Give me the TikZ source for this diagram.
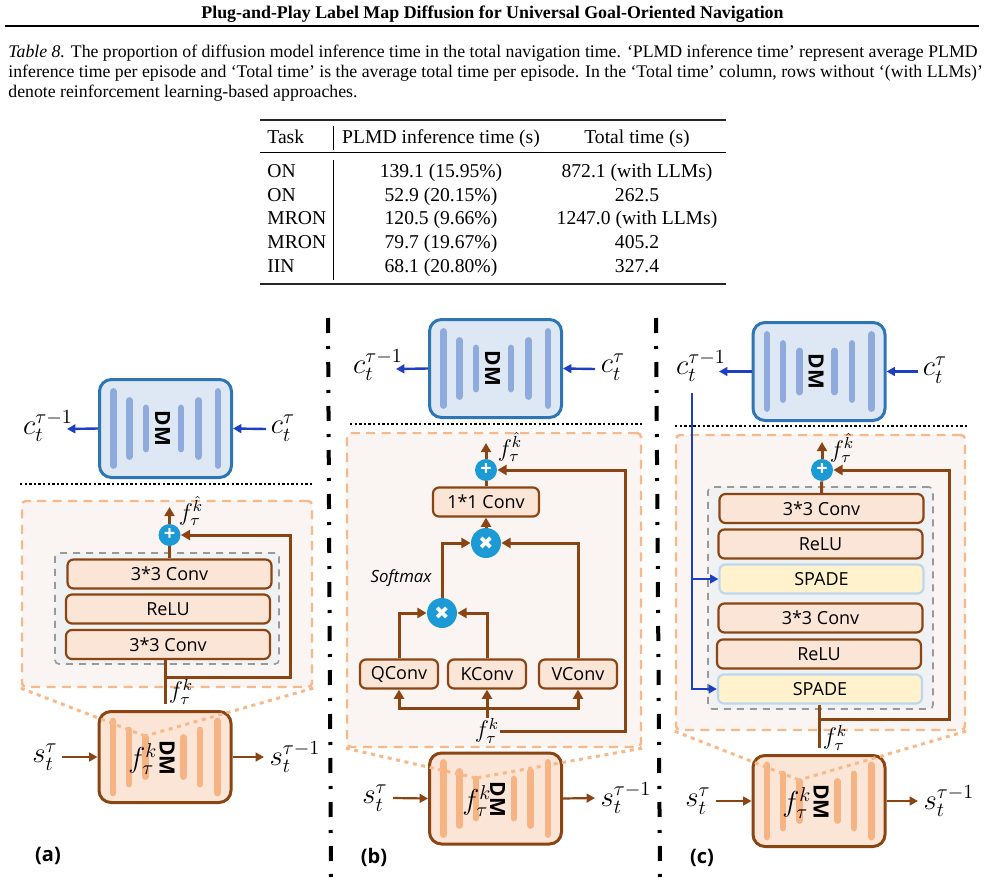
\documentclass[tikz,border=0pt]{standalone}
\usepackage{amsmath}
\usepackage{fontspec}
\setmainfont{Liberation Serif}
\newfontfamily\handfont{Open Sans}
\newfontfamily\symfont{DejaVu Sans}
\usetikzlibrary{arrows.meta}
\definecolor{brownline}{HTML}{8B4513}
\definecolor{orangefill}{HTML}{FBE5D6}
\definecolor{orangebar}{HTML}{F6B383}
\definecolor{orangedash}{HTML}{F8B98A}
\definecolor{panelfill}{HTML}{FAF5F2}
\definecolor{grayfill}{HTML}{F0F1F3}
\definecolor{bluefill}{HTML}{DEE8F5}
\definecolor{blueline}{HTML}{2E75B6}
\definecolor{bluebar}{HTML}{8FAADC}
\definecolor{arrowblue}{HTML}{1C3FC4}
\definecolor{circleblue}{HTML}{1B9AD6}
\definecolor{spadefill}{HTML}{FFF2CC}
\definecolor{spadeline}{HTML}{BDD7EE}
\tikzset{
  caption/.style={anchor=west, inner sep=0pt, font=\fontsize{8.88}{10}\selectfont},
  cell/.style={inner sep=0pt, text height=6.5pt, text depth=2pt, font=\fontsize{9.8}{11}\selectfont},
  tablerule/.style={line width=0.9pt, black!85},
  dmblue/.style={draw=blueline, fill=bluefill, line width=1.5pt, rounded corners=6pt, minimum width=66pt, minimum height=49pt, inner sep=0pt},
  dmorange/.style={draw=brownline, fill=orangefill, line width=1.5pt, rounded corners=6pt, minimum width=66pt, minimum height=45.5pt, inner sep=0pt},
  barblue/.style={bluebar, line width=3.4pt, line cap=round},
  barorange/.style={orangebar, line width=3.4pt, line cap=round},
  dmtext/.style={rotate=-90, inner sep=0pt, font=\handfont\bfseries\fontsize{10.5}{12}\selectfont},
  panel/.style={draw=orangedash, fill=panelfill, line width=1.2pt, dash pattern=on 4.5pt off 3.2pt, rounded corners=2pt, inner sep=0pt},
  graybox/.style={draw=black!40, fill=grayfill, line width=0.8pt, dash pattern=on 3.5pt off 3pt, rounded corners=2pt, inner sep=0pt},
  layer/.style={draw=brownline, fill=orangefill, line width=1.1pt, rounded corners=3pt, minimum width=102pt, minimum height=14.5pt, inner sep=0pt, font=\handfont\fontsize{9}{10}\selectfont},
  smallconv/.style={layer, minimum width=39pt},
  spade/.style={layer, draw=spadeline, fill=spadefill},
  addnode/.style={circle, fill=circleblue, text=white, minimum size=11pt, inner sep=0pt, font=\handfont\bfseries\fontsize{10}{10}\selectfont},
  mulnode/.style={addnode, minimum size=15pt, font=\symfont\fontsize{9}{9}\selectfont},
  brownarrow/.style={brownline, line width=1.5pt, -{Triangle[length=4.6pt, width=5pt]}},
  brownplain/.style={brownline, line width=1.5pt},
  thinarrow/.style={brownline, line width=1.1pt, -{Triangle[length=4.2pt, width=4.4pt]}},
  bluearrow/.style={arrowblue, line width=1.2pt, -{Triangle[length=4.2pt, width=4.4pt]}},
  zoomline/.style={orangedash, line width=1.5pt, dash pattern=on 2pt off 2.3pt},
  splitline/.style={black, line width=1.2pt, dash pattern=on 1.2pt off 1.1pt},
  partline/.style={black, line width=2pt, dash pattern=on 7.5pt off 6.5pt on 1.5pt off 6.5pt},
  mathlabel/.style={inner sep=0pt, font=\Large},
  featlabel/.style={inner sep=0pt, font=\large},
  partlabel/.style={inner sep=0pt, font=\handfont\bfseries\fontsize{10}{11}\selectfont}
}
% name, centre x, centre y
\newcommand{\dmbluenet}[3]{
  \node[dmblue] (#1) at (#2,#3) {};
  \foreach \dx/\hh in {-52/37,-36/28,-19.5/20.5,15.5/20.5,33/28,52.5/37}
    \draw[barblue] ({#2+\dx},{#3-\hh}) -- ({#2+\dx},{#3+\hh});
  \node[dmtext] (#1text) at ({#2-3},{#3}) {DM};
}
\newcommand{\dmorangenet}[3]{
  \node[dmorange] (#1) at (#2,#3) {};
  \foreach \dx/\hh in {-52/36,-36/27,-19.5/19.5,18.5/19.5,35/27,52.5/36}
    \draw[barorange] ({#2+\dx},{#3-\hh}) -- ({#2+\dx},{#3+\hh});
  \node[dmtext] (#1text) at ({#2+2},{#3+1}) {DM};
}
\begin{document}
\begin{tikzpicture}[x=0.5pt, y=-0.5pt]
\useasboundingbox (0,0) rectangle (986,883);
\fill[white] (0,0) rectangle (986,883);
% page header
\node[inner sep=0pt, font=\bfseries\fontsize{8.95}{10}\selectfont] (title) at (492.5,14) {Plug-and-Play Label Map Diffusion for Universal Goal-Oriented Navigation};
\coordinate (ruleleft) at (5,26);
\coordinate (ruleright) at (979,26);
\draw[black, line width=1pt] (ruleleft) -- (ruleright);
\node[caption] (capone) at (8,53.5) {\textit{Table 8.} The proportion of diffusion model inference time in the total navigation time. ‘PLMD inference time’ represent average PLMD};
\node[caption] (captwo) at (8,73) {inference time per episode and ‘Total time’ is the average total time per episode. In the ‘Total time’ column, rows without ‘(with LLMs)’};
\node[caption] (capthree) at (8,93) {denote reinforcement learning-based approaches.};
% table
\coordinate (tableleft) at (260,120);
\coordinate (tableright) at (726,120);
\draw[tablerule] (tableleft) -- (tableright);
\draw[black, line width=0.5pt] (260,153) -- (726,153);
\draw[tablerule] (260,284) -- (726,284);
\draw[black, line width=0.4pt] (333,126) -- (333,150);
\draw[black, line width=0.4pt] (333,160) -- (333,280);
\node[cell, anchor=west] (taskhead) at (267,139.5) {Task};
\node[cell] (plmdhead) at (441,139.5) {PLMD inference time (s)};
\node[cell] (totalhead) at (637,139.5) {Total time (s)};
\foreach \rowy/\task/\plmd/\total in {173/ON/139.1 (15.95\%)/872.1 (with LLMs),197/ON/52.9 (20.15\%)/262.5,220/MRON/120.5 (9.66\%)/1247.0 (with LLMs),244/MRON/79.7 (19.67\%)/405.2,268/IIN/68.1 (20.80\%)/327.4}{
  \node[cell, anchor=west] (task\rowy) at (267,\rowy) {\task};
  \node[cell] (plmd\rowy) at (441,\rowy) {\plmd};
  \node[cell] (total\rowy) at (637,\rowy) {\total};
}
% separators
\coordinate (partatop) at (328,318);
\coordinate (partabot) at (331,880);
\coordinate (partbtop) at (656,318);
\coordinate (partbbot) at (660,880);
\draw[partline] (partatop) -- (partabot);
\draw[partline] (partbtop) -- (partbbot);

% panel a
\dmbluenet{dmba}{165.5}{428.5}
\node[mathlabel] (cpreva) at (48,426) {$c_t^{\tau-1}$};
\node[mathlabel] (ccura) at (283,428) {$c_t^{\tau}$};
\coordinate (cenda) at (67,429);
\coordinate (cstarta) at (266,429);
\draw[bluearrow] (dmba.west) -- (cenda);
\draw[bluearrow] (cstarta) -- (dmba.east);
\coordinate (splitaleft) at (20,484);
\coordinate (splitaright) at (314,484);
\draw[splitline] (splitaleft) -- (splitaright);
\node[panel, minimum width=145pt, minimum height=93pt] (outera) at (167,594) {};
\dmorangenet{dmoa}{165}{757}
\coordinate (apexa) at (145,736);
\draw[zoomline] (outera.south west) -- (apexa);
\draw[zoomline] (outera.south east) -- (apexa);
\node[graybox, minimum width=112pt, minimum height=55.5pt] (graya) at (167,608.5) {};
\node[layer] (convtopa) at (169.5,574) {3*3 Conv};
\node[layer] (relua) at (168,609) {ReLU};
\node[layer] (convbota) at (168,644.5) {3*3 Conv};
\node[addnode] (plusa) at (169.5,535) {+};
\coordinate (hatenda) at (169.5,507);
\coordinate (stema) at (165.5,704);
\coordinate (turna) at (290,677);
\draw[brownplain] (convtopa.north -| plusa) -- (plusa);
\draw[brownarrow] (plusa) -- (hatenda);
\draw[brownplain] (stema) -- (stema |- convbota.south);
\draw[brownarrow] (stema |- turna) -- (turna) -- (turna |- plusa) -- (plusa);
\node[featlabel] (hata) at (191,511) {$f_{\tau}^{\hat{k}}$};
\node[featlabel] (feata) at (181,692) {$f_{\tau}^{k}$};
\node[mathlabel] (innera) at (143,759) {$f_{\tau}^{k}$};
\node[mathlabel] (sprea) at (45,757) {$s_t^{\tau}$};
\node[mathlabel] (snexta) at (295,757) {$s_t^{\tau-1}$};
\coordinate (sstarta) at (62,757);
\coordinate (senda) at (264,757);
\draw[thinarrow] (sstarta) -- (dmoa.west);
\draw[thinarrow] (dmoa.east) -- (senda);
\node[partlabel] (labela) at (48,856) {(a)};

% panel b
\dmbluenet{dmbb}{495.5}{368.5}
\node[mathlabel] (cprevb) at (378,365) {$c_t^{\tau-1}$};
\node[mathlabel] (ccurb) at (613,367) {$c_t^{\tau}$};
\coordinate (cendb) at (396,369);
\coordinate (cstartb) at (595,369);
\draw[bluearrow] (dmbb.west) -- (cendb);
\draw[bluearrow] (cstartb) -- (dmbb.east);
\coordinate (splitbleft) at (350,424);
\coordinate (splitbright) at (644,424);
\draw[splitline] (splitbleft) -- (splitbright);
\node[panel, minimum width=147pt, minimum height=157pt] (outerb) at (494,590) {};
\dmorangenet{dmob}{495.5}{798.5}
\coordinate (apexb) at (476,778);
\draw[zoomline] (outerb.south west) -- (apexb);
\draw[zoomline] (outerb.south east) -- (apexb);
\node[addnode] (plusb) at (486,470) {+};
\node[layer, minimum width=53pt] (oneconvb) at (486,502) {1*1 Conv};
\node[mulnode] (multopb) at (486,543) {✖};
\node[mulnode] (mullowb) at (442,613) {✖};
\node[smallconv] (qconvb) at (399,674) {QConv};
\node[smallconv] (kconvb) at (487,674) {KConv};
\node[smallconv] (vconvb) at (578,674) {VConv};
\node[inner sep=0pt, font=\handfont\itshape\fontsize{8.4}{9}\selectfont] (softb) at (401,578) {Softmax};
\node[featlabel] (featb) at (487,731) {$f_{\tau}^{k}$};
\node[featlabel] (hatb) at (510,447) {$f_{\tau}^{\hat{k}}$};
\coordinate (hatendb) at (486,443);
\coordinate (busb) at (487,708);
\coordinate (turnb) at (625,731);
\draw[brownarrow] (plusb) -- (hatendb);
\draw[brownplain] (oneconvb) -- (plusb);
\draw[brownarrow] (multopb) -- (oneconvb);
\draw[brownarrow] (mullowb) -- (mullowb |- multopb) -- (multopb);
\draw[brownarrow] (vconvb.north) -- (vconvb.north |- multopb) -- (multopb);
\draw[brownarrow] (qconvb.north) -- (qconvb.north |- mullowb) -- (mullowb);
\draw[brownarrow] (kconvb.north) -- (kconvb.north |- mullowb) -- (mullowb);
\draw[brownarrow] (featb.north) -- (kconvb.south);
\draw[brownarrow] (busb) -- (busb -| qconvb) -- (qconvb.south);
\draw[brownarrow] (busb) -- (busb -| vconvb) -- (vconvb.south);
\draw[brownarrow] (turnb -| featb.east) -- (turnb) -- (turnb |- plusb) -- (plusb);
\node[mathlabel] (spreb) at (375,798) {$s_t^{\tau}$};
\node[mathlabel] (snextb) at (626,798) {$s_t^{\tau-1}$};
\coordinate (sstartb) at (393,798);
\coordinate (sendb) at (595,798);
\draw[thinarrow] (sstartb) -- (dmob.west);
\draw[thinarrow] (dmob.east) -- (sendb);
\node[mathlabel] (innerb) at (477,801) {$f_{\tau}^{k}$};
\node[partlabel] (labelb) at (374,857) {(b)};

% panel c
\dmbluenet{dmbc}{819}{371.5}
\node[mathlabel] (cprevc) at (701,366) {$c_t^{\tau-1}$};
\node[mathlabel] (ccurc) at (935,370) {$c_t^{\tau}$};
\coordinate (cendc) at (719,371.5);
\coordinate (cstartc) at (918,371.5);
\draw[bluearrow] (dmbc.west) -- (cendc);
\draw[bluearrow] (cstartc) -- (dmbc.east);
\coordinate (splitcleft) at (675,426);
\coordinate (splitcright) at (968,426);
\draw[splitline] (splitcleft) -- (splitcright);
\node[panel, minimum width=144.5pt, minimum height=147.5pt] (outerc) at (820.5,582.5) {};
\dmorangenet{dmoc}{819}{801}
\coordinate (apexc) at (799,780);
\draw[zoomline] (outerc.south west) -- (apexc);
\draw[zoomline] (outerc.south east) -- (apexc);
\node[graybox, minimum width=112.5pt, minimum height=111pt] (grayc) at (820.5,598) {};
\node[layer] (convonec) at (821.5,508.5) {3*3 Conv};
\node[layer] (reluonec) at (820.5,544) {ReLU};
\node[spade] (spadeonec) at (821.5,579) {SPADE};
\node[layer] (convtwoc) at (820.5,618) {3*3 Conv};
\node[layer] (relutwoc) at (819,654) {ReLU};
\node[spade] (spadetwoc) at (820,689) {SPADE};
\node[addnode] (plusc) at (822,470) {+};
\coordinate (hatendc) at (822,442);
\coordinate (stemc) at (819,748);
\coordinate (turnc) at (949,719);
\draw[brownplain] (convonec.north) -- (plusc);
\draw[brownarrow] (plusc) -- (hatendc);
\draw[brownplain] (stemc) -- (stemc |- spadetwoc.south);
\draw[brownarrow] (stemc |- turnc) -- (turnc) -- (turnc |- plusc) -- (plusc);
\coordinate (feedtopc) at (692,393);
\coordinate (feedbotc) at (692,689);
\coordinate (feedmidc) at (692,579);
\draw[bluearrow] (feedtopc) -- (feedbotc) -- (spadetwoc.west);
\draw[bluearrow] (feedmidc) -- (spadeonec.west);
\node[featlabel] (hatc) at (842,448) {$f_{\tau}^{\hat{k}}$};
\node[featlabel] (featc) at (835,738) {$f_{\tau}^{k}$};
\node[mathlabel] (innerc) at (797,803) {$f_{\tau}^{k}$};
\node[mathlabel] (sprec) at (698,801) {$s_t^{\tau}$};
\node[mathlabel] (snextc) at (949,801) {$s_t^{\tau-1}$};
\coordinate (sstartc) at (716,801);
\coordinate (sendc) at (918,801);
\draw[thinarrow] (sstartc) -- (dmoc.west);
\draw[thinarrow] (dmoc.east) -- (sendc);
\node[partlabel] (labelc) at (702,858) {(c)};
\end{tikzpicture}
\end{document}
